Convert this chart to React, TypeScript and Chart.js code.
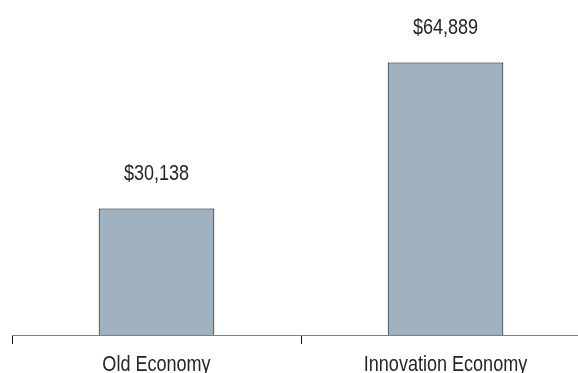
import React, { useEffect, useRef } from "react";
import { Chart, registerables } from "chart.js";

Chart.register(...registerables);

const categories: string[] = ["Old Economy", "Innovation Economy"];
const values: number[] = [30138, 64889];
const valueLabels: string[] = ["$30,138", "$64,889"];

const FONT = "'Liberation Sans', Arial, sans-serif";
const NARROW = 0.82;

function drawNarrow(ctx: CanvasRenderingContext2D, text: string, x: number, y: number) {
  ctx.save();
  ctx.translate(x, y);
  ctx.scale(NARROW, 1);
  ctx.fillText(text, 0, 0);
  ctx.restore();
}

const labelPlugin = {
  id: "narrowLabels",
  afterDraw(chart: any) {
    const ctx = chart.ctx as CanvasRenderingContext2D;
    const meta = chart.getDatasetMeta(0);
    const xScale = chart.scales.x;
    ctx.save();
    ctx.font = `22px ${FONT}`;
    ctx.fillStyle = "#262626";
    ctx.textAlign = "center";
    ctx.textBaseline = "alphabetic";
    meta.data.forEach((bar: any, i: number) => {
      drawNarrow(ctx, valueLabels[i], bar.x, bar.y - 28);
    });
    categories.forEach((c, i) => {
      drawNarrow(ctx, c, xScale.getPixelForTick(i), xScale.top + 36);
    });
    ctx.restore();
  },
};

export default function App() {
  const ref = useRef<HTMLCanvasElement>(null);
  useEffect(() => {
    if (!ref.current) return;
    const chart = new Chart(ref.current, {
      type: "bar",
      data: {
        labels: categories,
        datasets: [
          {
            data: values,
            backgroundColor: "#a0b1bf",
            borderColor: "#000000",
            borderWidth: 1,
            barPercentage: 0.4,
            categoryPercentage: 1,
          },
        ],
      },
      options: {
        animation: false,
        responsive: false,
        maintainAspectRatio: false,
        layout: { padding: { left: 12, right: 10, top: 20, bottom: 0 } },
        plugins: { legend: { display: false }, tooltip: { enabled: false } },
        scales: {
          y: { display: false, min: 0, max: 75000 },
          x: {
            offset: true,
            afterFit: (scale: any) => {
              scale.height = 38;
            },
            border: { display: true, color: "#808080", width: 1 },
            grid: {
              offset: true,
              drawOnChartArea: false,
              drawTicks: true,
              tickLength: 9,
              color: "#111",
              lineWidth: 1,
            },
            ticks: {
              color: "rgba(0,0,0,0)",
              padding: 3,
              font: { family: FONT, size: 16 },
              maxRotation: 0,
            },
          },
        },
      },
      plugins: [labelPlugin],
    });
    return () => chart.destroy();
  }, []);
  return (
    <div style={{ position: "fixed", left: 0, top: 0, width: 578, height: 373, overflow: "hidden", background: "#fff" }}>
      <canvas ref={ref} width={600} height={373} style={{ display: "block", width: 600, height: 373 }} />
    </div>
  );
}
